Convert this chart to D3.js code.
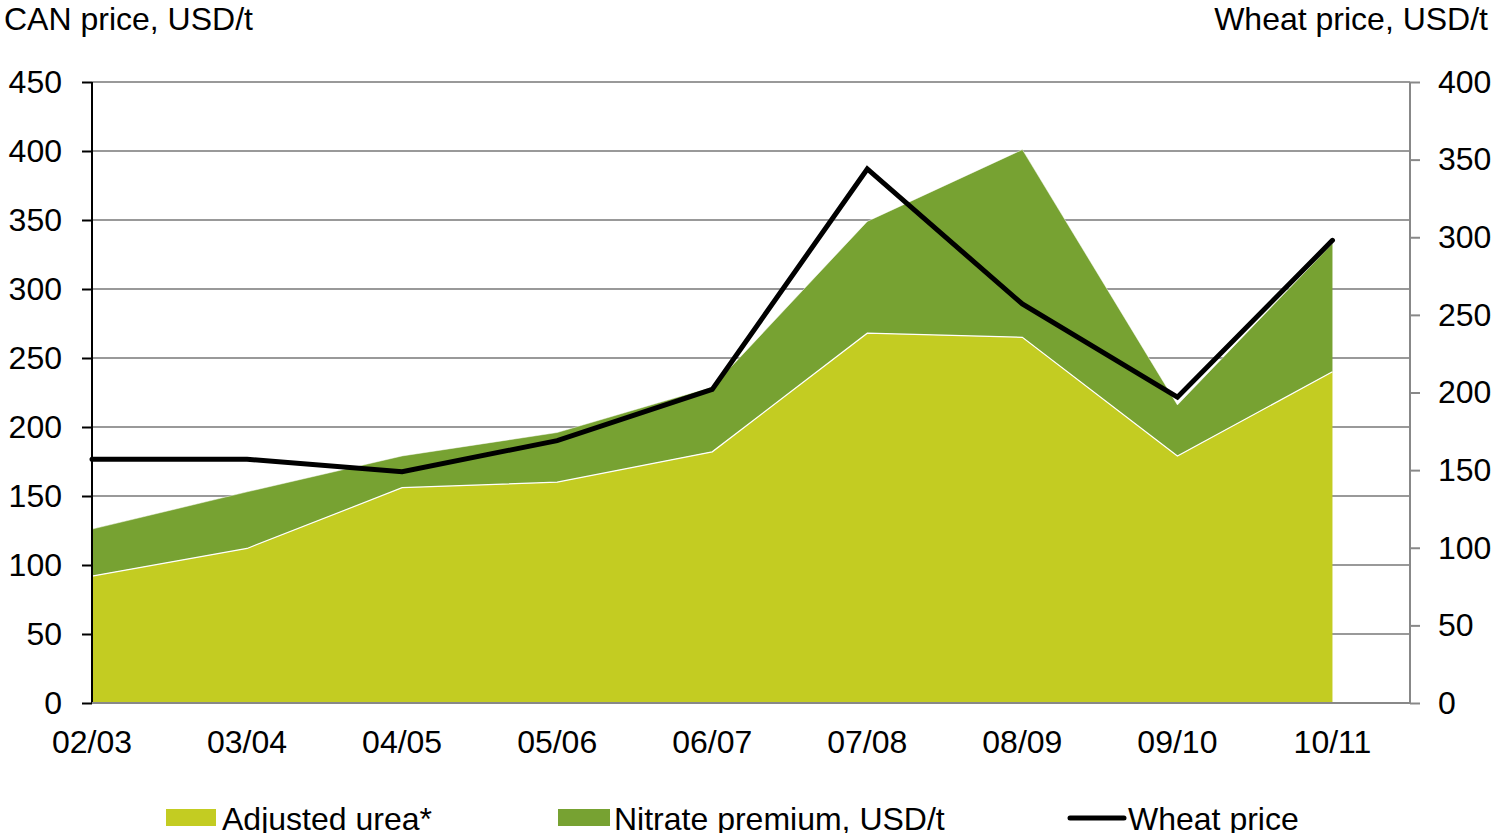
<!DOCTYPE html>
<html>
<head>
<meta charset="utf-8">
<script src="https://cdn.jsdelivr.net/npm/d3@7"></script>
<style>
  body { margin: 0; background: #fff; }
  text { font-family: "Liberation Sans", Arial, sans-serif; fill: #000; }
</style>
</head>
<body>
<script>
// data
var seasons = ["02/03", "03/04", "04/05", "05/06", "06/07", "07/08", "08/09", "09/10", "10/11"];
var urea = [92, 112, 156, 160, 182, 268, 265, 179, 240];
var nitrate = [34, 41, 23, 36, 47, 81, 136, 37, 93];
var wheat = [157, 157, 149, 169, 202, 344, 257, 197, 298];
var leftTicks = [0, 50, 100, 150, 200, 250, 300, 350, 400, 450];
var rightTicks = [0, 50, 100, 150, 200, 250, 300, 350, 400];

var width = 1493, height = 833;
var plotL = 92, plotR = 1410, plotT = 82, plotB = 703;
var fs = "32px";

var svg = d3.select("body").append("svg")
    .attr("width", width)
    .attr("height", height);

// categories sit on the grid, last slot only half used
var x = d3.scaleLinear().domain([0, 8.5]).range([plotL, plotR]);
var yL = d3.scaleLinear().domain([0, 450]).range([plotB, plotT]);
var yR = d3.scaleLinear().domain([0, 400]).range([plotB, plotT]);

//GRID
svg.append("g").selectAll("line").data(leftTicks.slice(1))
    .enter().append("line")
    .attr("x1", plotL).attr("x2", plotR)
    .attr("y1", d => yL(d)).attr("y2", d => yL(d))
    .style("stroke", "#999").style("stroke-width", 2);

//STACKED AREAS
var rows = seasons.map((s, i) => ({i: i, urea: urea[i], nitrate: nitrate[i]}));
var stack = d3.stack().keys(["urea", "nitrate"])(rows);
var area = d3.area()
    .x(d => x(d.data.i))
    .y0(d => yL(d[0]))
    .y1(d => yL(d[1]));

svg.append("path").datum(stack[1])
    .attr("d", area)
    .style("fill", "#77a232");
svg.append("path").datum(stack[0])
    .attr("d", area)
    .style("fill", "#c3cc22");
// thin white edge on top of each area
svg.append("path").datum(stack[0])
    .attr("d", d3.line().x(d => x(d.data.i)).y(d => yL(d[1])))
    .style("fill", "none").style("stroke", "#fff").style("stroke-width", 1.2);
svg.append("path").datum(stack[1])
    .attr("d", d3.line().x(d => x(d.data.i)).y(d => yL(d[1])))
    .style("fill", "none").style("stroke", "#fff").style("stroke-width", 0.8).style("stroke-opacity", 0.6);

//WHEAT LINE
svg.append("path").datum(wheat)
    .attr("d", d3.line().x((d, i) => x(i)).y(d => yR(d)))
    .style("fill", "none").style("stroke", "#000")
    .style("stroke-width", 5).style("stroke-linejoin", "miter").style("stroke-linecap", "round");

//AXES
var axL = svg.append("g").attr("transform", "translate(" + plotL + ",0)")
    .call(d3.axisLeft(yL).tickValues(leftTicks).tickSize(10).tickPadding(20));
var axR = svg.append("g").attr("transform", "translate(" + plotR + ",0)")
    .call(d3.axisRight(yR).tickValues(rightTicks).tickSize(10).tickPadding(18));
[axL, axR].forEach(function(a) {
    a.select(".domain").remove();
    a.selectAll("text").style("font-size", fs).attr("fill", "#000")
        .style("font-family", "'Liberation Sans', Arial, sans-serif");
});
axL.selectAll("line").style("stroke", "#000").style("stroke-width", 2);
axR.selectAll("line").style("stroke", "#888").style("stroke-width", 2);
svg.append("line").attr("x1", plotL).attr("x2", plotL).attr("y1", plotT).attr("y2", plotB)
    .style("stroke", "#000").style("stroke-width", 2);
svg.append("line").attr("x1", plotR).attr("x2", plotR).attr("y1", plotT).attr("y2", plotB)
    .style("stroke", "#888").style("stroke-width", 2);
svg.append("line").attr("x1", plotL).attr("x2", plotR).attr("y1", plotB).attr("y2", plotB)
    .style("stroke", "#888").style("stroke-width", 2);

svg.append("g").selectAll("text").data(seasons)
    .enter().append("text")
    .text(d => d)
    .attr("x", (d, i) => x(i))
    .attr("y", 753)
    .attr("text-anchor", "middle")
    .style("font-size", fs);

//AXIS TITLES
svg.append("text").text("CAN price, USD/t")
    .attr("x", 4).attr("y", 30).style("font-size", fs);
svg.append("text").text("Wheat price, USD/t")
    .attr("x", 1488).attr("y", 30).attr("text-anchor", "end").style("font-size", fs);

//LEGEND
var lg = svg.append("g");
lg.append("rect").attr("x", 166).attr("y", 809).attr("width", 50).attr("height", 17).style("fill", "#c3cc22");
lg.append("text").text("Adjusted urea*").attr("x", 222).attr("y", 830).style("font-size", fs);
lg.append("rect").attr("x", 558).attr("y", 809).attr("width", 52).attr("height", 17).style("fill", "#77a232");
lg.append("text").text("Nitrate premium, USD/t").attr("x", 614).attr("y", 830).style("font-size", fs);
lg.append("line").attr("x1", 1070).attr("x2", 1124).attr("y1", 818).attr("y2", 818)
    .style("stroke", "#000").style("stroke-width", 5).style("stroke-linecap", "round");
lg.append("text").text("Wheat price").attr("x", 1128).attr("y", 830).style("font-size", fs);
</script>
</body>
</html>
